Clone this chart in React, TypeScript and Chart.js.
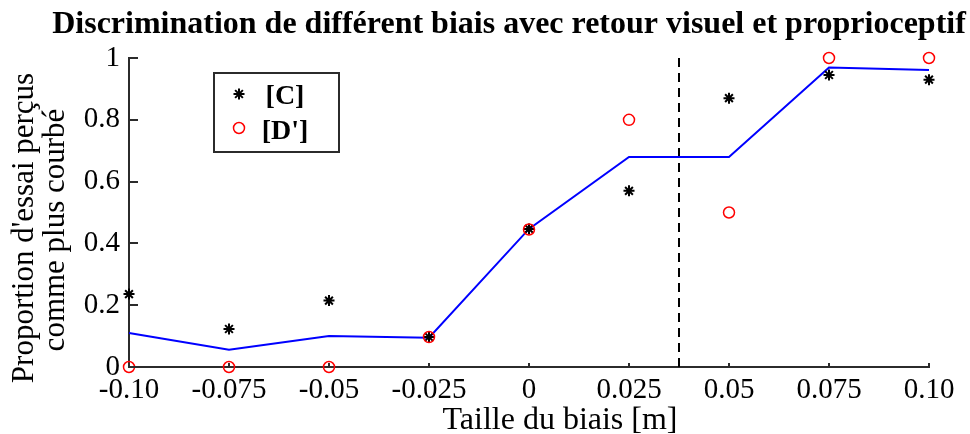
import React, { useEffect, useRef } from 'react';
import { Chart, registerables } from 'chart.js';

Chart.register(...registerables);

// Bias sizes tested (m) and their axis labels
const biasSizes = [-0.1, -0.075, -0.05, -0.025, 0, 0.025, 0.05, 0.075, 0.1];
const xTickLabels = ['-0.10', '-0.075', '-0.05', '-0.025', '0', '0.025', '0.05', '0.075', '0.10'];

// Proportion of trials perceived as more curved
const conditionC = [0.236, 0.123, 0.215, 0.097, 0.447, 0.57, 0.87, 0.945, 0.93];
const conditionD = [0, 0, 0, 0.097, 0.445, 0.8, 0.5, 1.0, 1.0];
const meanCurve = [0.11, 0.056, 0.1, 0.095, 0.447, 0.68, 0.68, 0.969, 0.961];

// Perception threshold (m)
const thresholdBias = 0.0375;

const titleText = 'Discrimination de différent biais avec retour visuel et proprioceptif';
const yTitleLines = ["Proportion d'essai perçus", 'comme plus courbé'];
const xTitleText = 'Taille du biais [m]';
const legendLabels = ['[C]', "[D']"];

const SERIF = '"Liberation Serif", "DejaVu Serif", serif';
const AXIS_COLOR = '#2b2b2b';

function drawAsterisk(ctx: CanvasRenderingContext2D, x: number, y: number, r: number) {
  ctx.beginPath();
  for (let k = 0; k < 4; k++) {
    const a = (k * Math.PI) / 4;
    ctx.moveTo(x - Math.cos(a) * r, y - Math.sin(a) * r);
    ctx.lineTo(x + Math.cos(a) * r, y + Math.sin(a) * r);
  }
  ctx.stroke();
}

const figurePlugin = {
  id: 'figureDecorations',
  afterDraw(chart: any) {
    const { ctx, chartArea, scales } = chart;
    const xs = scales.x;
    const ys = scales.y;
    ctx.save();

    // inward tick marks
    ctx.strokeStyle = AXIS_COLOR;
    ctx.lineWidth = 2;
    ctx.beginPath();
    ys.ticks.forEach((t: any) => {
      const py = Math.round(ys.getPixelForValue(t.value));
      ctx.moveTo(chartArea.left, py);
      ctx.lineTo(chartArea.left + 9, py);
    });
    xs.ticks.forEach((t: any) => {
      const px = Math.round(xs.getPixelForValue(t.value));
      ctx.moveTo(px, chartArea.bottom);
      ctx.lineTo(px, chartArea.bottom - 4);
    });
    ctx.stroke();

    // title
    ctx.fillStyle = '#000';
    ctx.textAlign = 'center';
    ctx.textBaseline = 'alphabetic';
    ctx.font = `bold 32px ${SERIF}`;
    ctx.fillText(titleText, 509, 33);

    // x axis title
    ctx.font = `32px ${SERIF}`;
    ctx.fillText(xTitleText, 560, 429);

    // y axis title (two lines)
    ctx.font = `31px ${SERIF}`;
    ctx.save();
    ctx.translate(33, 228);
    ctx.rotate(-Math.PI / 2);
    ctx.fillText(yTitleLines[0], 0, 0);
    ctx.restore();
    ctx.save();
    ctx.translate(64, 230);
    ctx.rotate(-Math.PI / 2);
    ctx.fillText(yTitleLines[1], 0, 0);
    ctx.restore();

    // legend
    const bx = 214, by = 73, bw = 125, bh = 79;
    ctx.fillStyle = '#fff';
    ctx.fillRect(bx, by, bw, bh);
    ctx.strokeStyle = AXIS_COLOR;
    ctx.lineWidth = 2;
    ctx.strokeRect(bx, by, bw, bh);

    ctx.strokeStyle = '#000';
    ctx.lineWidth = 2;
    drawAsterisk(ctx, 239, 94, 5.5);
    ctx.strokeStyle = '#ff0000';
    ctx.lineWidth = 1.5;
    ctx.beginPath();
    ctx.arc(239, 128, 5.5, 0, Math.PI * 2);
    ctx.stroke();

    ctx.fillStyle = '#000';
    ctx.font = `bold 28px ${SERIF}`;
    ctx.textAlign = 'center';
    ctx.fillText(legendLabels[0], 285, 104);
    ctx.fillText(legendLabels[1], 285, 139);

    ctx.restore();
  },
};

export default function App() {
  const canvasRef = useRef<HTMLCanvasElement | null>(null);

  useEffect(() => {
    document.body.style.margin = '0';
    const canvas = canvasRef.current;
    if (!canvas) return;

    const pts = (ys: number[]) => biasSizes.map((x, i) => ({ x, y: ys[i] }));

    const chart = new Chart(canvas, {
      type: 'scatter',
      data: {
        datasets: [
          {
            label: legendLabels[1],
            data: pts(conditionD),
            pointStyle: 'circle',
            pointRadius: 5.5,
            borderColor: '#ff0000',
            backgroundColor: 'rgba(0,0,0,0)',
            borderWidth: 1.5,
            showLine: false,
            clip: false,
          } as any,
          {
            label: legendLabels[0],
            data: pts(conditionC),
            pointStyle: 'star',
            pointRadius: 5.5,
            borderColor: '#000',
            backgroundColor: '#000',
            borderWidth: 2,
            showLine: false,
            clip: false,
          } as any,
          {
            label: 'moyenne',
            data: pts(meanCurve),
            showLine: true,
            borderColor: '#0000ff',
            borderWidth: 2,
            pointRadius: 0,
            tension: 0,
            clip: false,
          } as any,
          {
            label: 'seuil',
            data: [
              { x: thresholdBias, y: 0 },
              { x: thresholdBias, y: 1 },
            ],
            showLine: true,
            borderColor: '#000',
            borderWidth: 2,
            borderDash: [9, 6],
            pointRadius: 0,
            clip: false,
          } as any,
        ],
      },
      options: {
        responsive: false,
        animation: false,
        events: [],
        layout: { padding: { left: 0, top: 58, right: 41, bottom: 0 } },
        plugins: {
          legend: { display: false },
          title: { display: false },
          tooltip: { enabled: false },
        },
        scales: {
          x: {
            type: 'linear',
            min: -0.1,
            max: 0.1,
            afterFit: (scale: any) => {
              scale.height = 67;
            },
            afterBuildTicks: (scale: any) => {
              scale.ticks = biasSizes.map((v) => ({ value: v }));
            },
            ticks: {
              autoSkip: false,
              maxRotation: 0,
              padding: 6,
              color: '#000',
              font: { family: SERIF, size: 29 },
              callback: (_v: any, i: number) => xTickLabels[i],
            },
            grid: { display: true, drawOnChartArea: false, drawTicks: false },
            border: { display: true, color: AXIS_COLOR, width: 2 },
          },
          y: {
            type: 'linear',
            min: 0,
            max: 1,
            afterFit: (scale: any) => {
              scale.width = 129;
            },
            ticks: {
              stepSize: 0.1,
              padding: 9,
              color: '#000',
              font: { family: SERIF, size: 29 },
              callback: (v: any) => {
                const tenth = Math.round(Number(v) * 10);
                return tenth % 2 === 0 ? String(tenth / 10) : '';
              },
            },
            grid: { display: true, drawOnChartArea: false, drawTicks: false },
            border: { display: true, color: AXIS_COLOR, width: 2 },
          },
        },
      } as any,
      plugins: [figurePlugin],
    });

    return () => chart.destroy();
  }, []);

  return (
    <div style={{ position: 'absolute', left: 0, top: 0, width: 970, height: 434, background: '#fff' }}>
      <canvas ref={canvasRef} width={970} height={434} style={{ width: 970, height: 434, display: 'block' }} />
    </div>
  );
}
